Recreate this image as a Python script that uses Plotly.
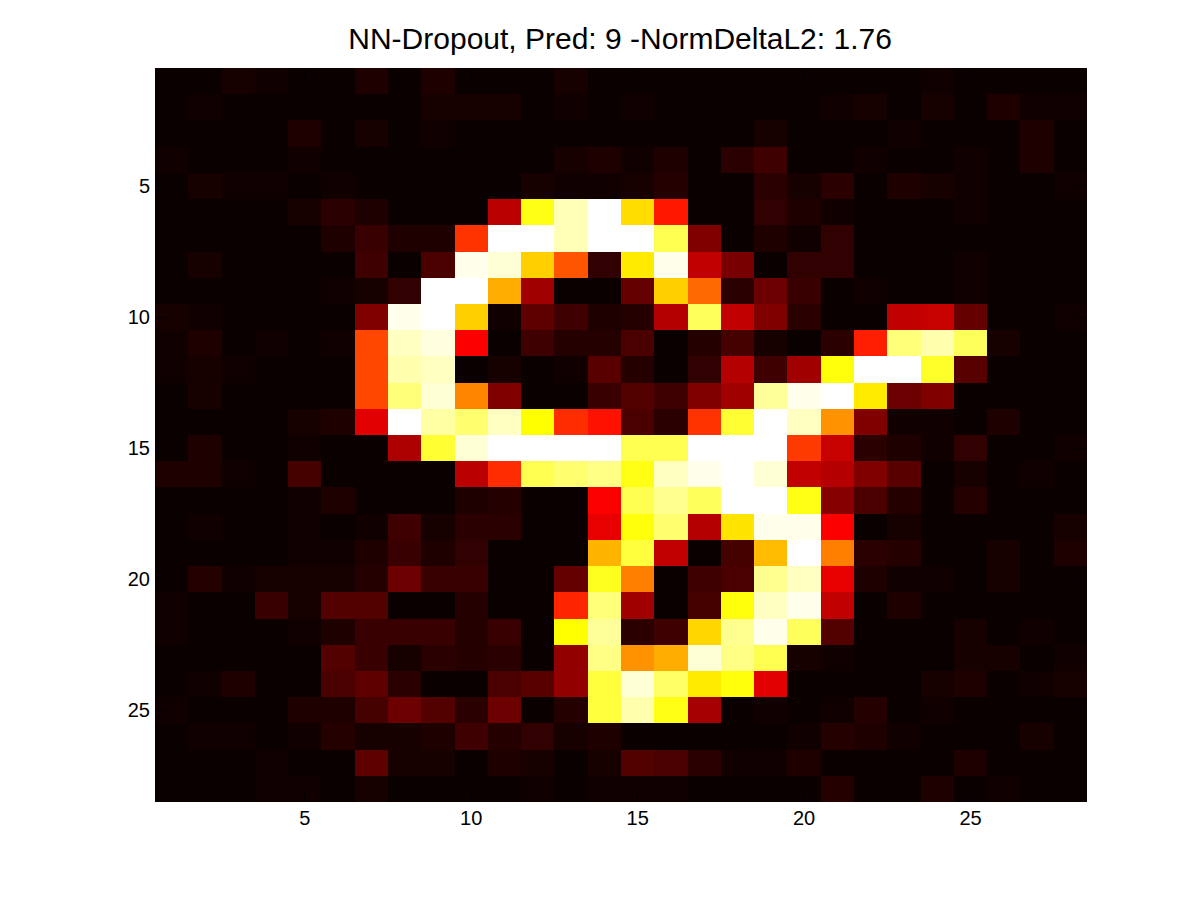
import plotly.graph_objects as go

TITLE = "NN-Dropout, Pred: 9 -NormDeltaL2: 1.76"
TICKS = [5, 10, 15, 20, 25]
CELLS = list(range(1, 29))

# pixel intensities in percent, one list per image row
ROW_01 = [0, 0, 2, 1, 0, 0, 3, 0, 3, 0, 0, 0, 2, 0, 0, 0, 0, 0, 0, 0, 0, 0, 0, 1, 0, 0, 0, 0]
ROW_02 = [0, 1, 0, 0, 0, 0, 0, 0, 2, 2, 2, 0, 1, 0, 1, 0, 0, 0, 0, 0, 1, 2, 0, 2, 0, 3, 1, 1]
ROW_03 = [0, 0, 0, 0, 3, 0, 2, 0, 1, 0, 0, 0, 0, 0, 0, 0, 0, 0, 2, 0, 0, 0, 1, 0, 0, 0, 3, 0]
ROW_04 = [1, 0, 0, 0, 1, 0, 0, 0, 0, 0, 0, 0, 2, 3, 1, 3, 0, 5, 8, 0, 0, 1, 0, 0, 1, 0, 3, 0]
ROW_05 = [0, 2, 1, 1, 0, 1, 0, 0, 0, 0, 0, 2, 1, 1, 2, 4, 0, 0, 5, 2, 5, 0, 3, 2, 1, 0, 0, 1]
ROW_06 = [0, 0, 0, 0, 2, 5, 3, 0, 0, 0, 27, 77, 93, 100, 70, 41, 0, 0, 6, 3, 1, 0, 0, 0, 1, 0, 0, 0]
ROW_07 = [0, 0, 0, 0, 0, 3, 7, 3, 3, 45, 100, 100, 93, 100, 100, 83, 18, 0, 3, 1, 6, 0, 0, 0, 0, 0, 0, 0]
ROW_08 = [0, 2, 0, 0, 0, 0, 8, 0, 10, 98, 96, 68, 50, 6, 72, 98, 28, 17, 0, 6, 6, 0, 0, 0, 1, 0, 0, 0]
ROW_09 = [0, 0, 0, 0, 0, 1, 2, 6, 100, 100, 63, 23, 0, 0, 14, 68, 53, 5, 15, 7, 0, 1, 0, 0, 1, 0, 0, 0]
ROW_10 = [2, 1, 0, 0, 0, 0, 18, 98, 100, 68, 1, 13, 8, 3, 4, 26, 84, 28, 18, 5, 0, 0, 28, 29, 14, 0, 0, 1]
ROW_11 = [1, 3, 0, 1, 0, 1, 48, 94, 97, 37, 0, 8, 4, 4, 10, 0, 4, 9, 2, 0, 5, 42, 87, 92, 84, 2, 0, 0]
ROW_12 = [1, 2, 1, 0, 0, 0, 48, 92, 94, 0, 2, 0, 1, 12, 4, 0, 6, 26, 8, 23, 76, 100, 100, 79, 12, 0, 0, 0]
ROW_13 = [0, 2, 0, 0, 0, 0, 48, 87, 96, 57, 18, 0, 0, 7, 11, 8, 18, 23, 90, 98, 100, 72, 15, 18, 0, 0, 0, 0]
ROW_14 = [0, 0, 0, 0, 2, 3, 33, 100, 91, 86, 94, 75, 44, 40, 10, 5, 45, 80, 100, 94, 59, 18, 1, 1, 0, 3, 0, 0]
ROW_15 = [0, 3, 0, 0, 1, 0, 0, 25, 80, 96, 100, 100, 100, 100, 83, 83, 100, 100, 100, 46, 29, 5, 3, 1, 6, 0, 0, 1]
ROW_16 = [3, 3, 1, 0, 9, 0, 0, 0, 0, 27, 44, 83, 86, 88, 77, 94, 98, 100, 96, 28, 26, 18, 12, 0, 2, 0, 1, 0]
ROW_17 = [0, 0, 0, 0, 1, 3, 0, 0, 0, 3, 4, 0, 0, 37, 83, 89, 84, 100, 100, 77, 19, 10, 4, 0, 4, 0, 0, 0]
ROW_18 = [0, 1, 0, 0, 1, 0, 1, 8, 2, 5, 5, 0, 0, 34, 76, 86, 26, 71, 98, 98, 37, 0, 2, 0, 0, 0, 0, 2]
ROW_19 = [0, 0, 0, 0, 1, 1, 3, 7, 3, 6, 0, 0, 0, 64, 81, 28, 0, 9, 65, 100, 56, 5, 4, 0, 0, 2, 0, 3]
ROW_20 = [0, 4, 1, 2, 2, 2, 4, 15, 7, 7, 0, 0, 14, 78, 56, 0, 8, 10, 89, 94, 34, 3, 1, 1, 0, 2, 0, 0]
ROW_21 = [1, 0, 0, 7, 2, 11, 11, 0, 0, 4, 0, 0, 43, 87, 23, 0, 9, 76, 94, 98, 28, 0, 3, 0, 0, 0, 0, 0]
ROW_22 = [1, 0, 0, 0, 1, 3, 7, 7, 7, 4, 7, 0, 75, 90, 5, 8, 69, 89, 98, 84, 11, 0, 0, 0, 2, 0, 1, 0]
ROW_23 = [0, 0, 0, 0, 0, 11, 7, 2, 5, 4, 5, 0, 21, 88, 59, 63, 96, 88, 83, 2, 1, 0, 0, 0, 2, 2, 0, 1]
ROW_24 = [0, 1, 3, 0, 0, 10, 13, 5, 0, 0, 10, 12, 21, 81, 96, 85, 72, 76, 33, 0, 0, 0, 0, 2, 3, 0, 1, 2]
ROW_25 = [1, 0, 0, 0, 3, 3, 9, 15, 11, 5, 15, 0, 4, 81, 92, 77, 24, 0, 1, 0, 1, 4, 0, 1, 0, 0, 0, 0]
ROW_26 = [0, 1, 1, 0, 1, 4, 2, 2, 3, 8, 4, 6, 2, 3, 0, 0, 0, 0, 0, 1, 4, 3, 1, 0, 0, 0, 2, 0]
ROW_27 = [0, 0, 0, 1, 0, 0, 13, 2, 2, 0, 3, 2, 0, 2, 11, 10, 5, 1, 1, 3, 0, 0, 0, 0, 3, 0, 0, 0]
ROW_28 = [0, 0, 0, 1, 1, 0, 2, 0, 0, 0, 0, 1, 0, 1, 1, 1, 0, 0, 0, 0, 4, 0, 0, 3, 0, 1, 0, 0]

PIXELS = [
    ROW_01, ROW_02, ROW_03, ROW_04, ROW_05, ROW_06, ROW_07,
    ROW_08, ROW_09, ROW_10, ROW_11, ROW_12, ROW_13, ROW_14,
    ROW_15, ROW_16, ROW_17, ROW_18, ROW_19, ROW_20, ROW_21,
    ROW_22, ROW_23, ROW_24, ROW_25, ROW_26, ROW_27, ROW_28,
]

# matlab style "hot"
HOT = [
    [0.0, "rgb(10,0,0)"],
    [0.375, "rgb(255,0,0)"],
    [0.75, "rgb(255,255,0)"],
    [1.0, "rgb(255,255,255)"],
]

FONT = "Liberation Sans, Arial, sans-serif"

fig = go.Figure(
    go.Heatmap(
        x=CELLS,
        y=CELLS,
        z=PIXELS,
        zmin=0,
        zmax=100,
        colorscale=HOT,
        showscale=False,
    )
)

axis = dict(
    tickvals=TICKS,
    ticks="inside",
    ticklen=10,
    tickcolor="black",
    tickwidth=1,
    showgrid=False,
    zeroline=False,
    showline=False,
    mirror="ticks",
    tickfont=dict(family=FONT, size=20, color="black"),
)

fig.update_xaxes(range=[0.5, 28.5], ticklabelstandoff=2, **axis)
fig.update_yaxes(range=[28.5, 0.5], ticklabelstandoff=4, **axis)

fig.update_layout(
    width=1184,
    height=884,
    margin=dict(l=147, r=105, t=60, b=90),
    paper_bgcolor="white",
    plot_bgcolor="white",
    title=dict(
        text=TITLE,
        font=dict(family=FONT, size=30, color="black"),
        x=0.499,
        xref="paper",
        xanchor="center",
        y=0.9655,
        yanchor="middle",
    ),
)

fig.write_html("out.html")
